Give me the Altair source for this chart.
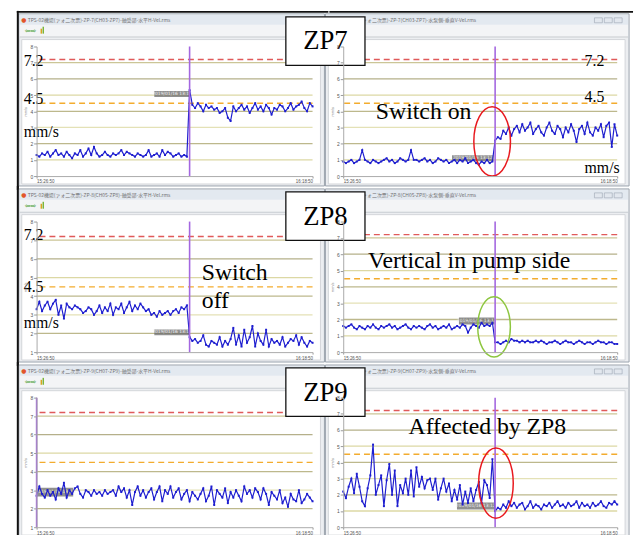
import altair as alt
import pandas as pd

# ---------------- data ----------------
P1_BEFORE = [1.3, 1.2, 1.4, 1.3, 1.5, 1.2, 1.4, 1.6, 1.3, 1.4,
             1.2, 1.5, 1.3, 1.1, 1.4, 1.3, 1.6, 1.2, 1.4, 1.7,
             1.3, 1.8, 1.4, 1.2, 1.3, 1.5, 1.3, 1.2, 1.4, 1.3,
             1.4, 1.6, 1.3, 1.5, 1.4, 1.3, 1.2, 1.4, 1.3, 1.2,
             1.3, 1.6, 1.2, 1.3, 1.4, 1.2, 1.6, 1.3, 1.5, 1.4,
             1.2, 1.3, 1.4, 1.2, 1.3, 1.2]
P1_AFTER = [5.3, 4.4, 4.2, 4.5, 4.3, 4.0, 4.4, 4.2, 4.3, 4.1,
            4.2, 3.9, 4.0, 4.2, 3.6, 3.4, 4.3, 4.0, 4.2, 4.4,
            4.1, 4.3, 3.9, 4.2, 4.5, 4.1, 4.3, 4.0, 4.4, 4.2,
            3.8, 4.2, 4.1, 4.4, 4.3, 4.0, 4.2, 4.5, 4.1, 4.3,
            4.4, 4.6, 4.2, 4.0, 4.5, 4.3]

P2_BEFORE = [0.9, 0.8, 0.9, 1.0, 0.8, 0.9, 1.0, 1.6, 1.0, 0.9,
             0.8, 1.0, 0.9, 0.8, 0.9, 1.0, 1.1, 0.9, 1.0, 0.8,
             0.9, 1.1, 1.0, 0.9, 1.0, 1.6, 1.0, 1.0, 0.9, 1.0,
             1.1, 0.9, 1.0, 0.8, 0.9, 1.1, 1.0, 0.9, 1.0, 0.8,
             0.9, 1.0, 0.8, 1.0, 0.9, 1.1, 0.8, 0.9, 1.0, 0.8,
             0.7, 0.9, 0.8, 1.0, 0.8, 0.9]
P2_AFTER = [2.2, 2.4, 2.3, 2.8, 2.6, 3.0, 2.5, 2.9, 3.1, 2.7,
            3.2, 2.8, 3.0, 3.3, 2.6, 2.9, 3.1, 2.7, 2.5, 3.0,
            3.3, 2.8, 2.6, 3.1, 2.9, 2.4, 3.0, 2.7, 3.2, 2.8,
            2.1, 2.9, 3.1, 2.6, 3.3, 2.7, 2.5, 3.0, 2.8, 3.2,
            2.4, 3.1, 3.3, 1.8, 3.2, 2.5]

P3_BEFORE = [3.3, 3.7, 3.2, 3.5, 3.7, 3.3, 3.6, 3.8, 3.0, 3.5,
             2.8, 3.6, 3.4, 3.3, 3.5, 3.4, 3.3, 3.1, 3.2, 3.4,
             3.3, 3.0, 3.2, 3.5, 3.1, 3.4, 3.2, 3.6, 3.0, 3.4,
             3.3, 3.6, 3.1, 3.4, 3.7, 3.2, 3.5, 3.3, 3.6, 3.4,
             3.2, 3.3, 3.0, 3.1, 2.9, 3.2, 3.0, 3.1, 3.2, 3.0,
             3.2, 3.3, 3.1, 3.4, 3.3, 3.5]
P3_AFTER = [1.8, 1.6, 1.7, 1.5, 1.6, 1.9, 1.4, 1.3, 1.6, 1.5,
            1.4, 1.8, 1.3, 1.6, 1.4, 1.7, 2.3, 1.4, 1.9, 1.3,
            2.2, 1.5, 1.8, 2.4, 1.3, 2.0, 1.6, 1.4, 2.2, 1.3,
            1.7, 1.5, 1.6, 1.4, 1.8, 1.3, 1.5, 1.7, 1.6, 1.9,
            1.4, 1.8, 1.5, 1.3, 1.6, 1.5]

P4_BEFORE = [1.6, 1.5, 1.6, 1.7, 1.5, 1.4, 1.6, 1.5, 1.4, 1.6,
             1.5, 1.7, 1.5, 1.4, 1.6, 1.5, 1.6, 1.7, 1.5, 1.6,
             1.4, 1.5, 1.6, 1.7, 1.5, 1.4, 1.6, 1.5, 1.6, 1.5,
             1.4, 1.6, 1.7, 1.5, 1.6, 1.4, 1.5, 1.6, 1.5, 1.7,
             1.4, 1.5, 1.6, 1.5, 1.7, 1.6, 1.2, 1.5, 1.7, 1.6,
             1.5, 1.8, 1.6, 1.7, 1.6, 1.8]
P4_AFTER = [0.6, 0.6, 0.5, 0.6, 0.7, 0.6, 0.8, 0.7, 0.7, 0.6,
            0.7, 0.6, 0.7, 0.6, 0.6, 0.7, 0.6, 0.7, 0.6, 0.5,
            0.6, 0.6, 0.7, 0.6, 0.5, 0.6, 0.7, 0.6, 0.6, 0.5,
            0.6, 0.7, 0.6, 0.5, 0.6, 0.6, 0.5, 0.6, 0.7, 0.6,
            0.6, 0.5, 0.6, 0.6, 0.5, 0.5]

P5_BEFORE = []
P5_AFTER = [2.7, 3.2, 2.8, 2.6, 3.0, 2.7, 2.9, 2.5, 3.1, 2.8,
            3.4, 2.6, 3.0, 2.8, 3.1, 3.2, 2.8, 2.6, 3.0, 2.9,
            2.7, 3.0, 2.8, 2.9, 2.7, 3.0, 2.8, 2.9, 3.0, 2.7,
            3.2, 2.9, 3.1, 2.6, 3.0, 2.2, 2.9, 3.2, 2.7, 3.0,
            2.6, 2.9, 3.1, 2.5, 2.9, 3.2, 2.4, 3.0, 2.8, 3.2,
            2.6, 2.9, 3.1, 2.5, 2.8, 3.0, 2.4, 2.9, 2.7, 2.5,
            2.8, 3.1, 2.4, 2.7, 3.2, 2.2, 3.0, 2.8, 2.6, 3.1,
            2.3, 2.9, 2.6, 3.0, 2.7, 2.4, 3.2, 2.8, 3.0, 2.6,
            3.1, 2.9, 2.5, 3.1, 2.8, 2.2, 2.9, 2.7, 2.5, 3.0,
            2.3, 2.6, 2.1, 2.8, 2.5, 2.4, 3.0, 2.3, 2.5, 2.8,
            2.6, 2.4]

P6_BEFORE = [2.2, 1.8, 2.5, 3.0, 2.1, 3.3, 2.5, 1.6, 1.3, 2.4,
             3.2, 5.1, 2.0, 2.6, 3.2, 1.3, 2.9, 3.9, 2.0, 3.5,
             1.3, 2.6, 2.1, 3.0, 2.0, 3.5, 1.9, 3.7, 2.5, 3.1,
             2.4, 2.9, 3.0, 2.3, 3.0, 1.7, 2.4, 3.0, 2.2, 2.7,
             1.6, 2.3, 1.7, 2.6, 1.4, 2.2, 1.5, 2.4, 1.6, 2.3,
             2.8, 1.5, 2.9, 2.6, 1.8, 4.2]
P6_AFTER = [1.0, 1.2, 1.1, 1.4, 1.2, 1.6, 1.3, 1.5, 1.2, 1.4,
            1.5, 1.1, 1.3, 1.6, 1.2, 1.4, 1.3, 1.1, 1.4, 1.3,
            1.5, 1.2, 1.4, 1.6, 1.3, 1.4, 1.2, 1.5, 1.3, 1.4,
            1.6, 1.2, 1.5, 1.3, 1.4, 1.2, 1.5, 1.3, 1.4, 1.6,
            1.3, 1.2, 1.5, 1.4, 1.6, 1.4]

Y_MIN = [0, 0, 1, 0, 1, 0]          # lower end of each panel's y axis
Y_MAX = 8
ALARM = 7.2                          # red dashed limit
WARN = 4.5                           # orange dashed limit
GRID_LEVELS = [1, 2, 3, 4, 5, 6, 7]
GRID_SHADES = ["#dcd8a4", "#bdb88c", "#e4e1b6", "#bdb88c", "#dcd8a4", "#b5b08a", "#cbc596"]
TIME_START = "15:26:50"
TIME_END = "16:18:50"
ZP_LABELS = ["ZP7", "ZP8", "ZP9"]
WIN_TITLES = [
    "TPS-02機場(ァォ二次票)-ZP-7(CH03-ZP7)-軸受部-水平H-Vel.rms",
    "TPS-02機場(ァォ二次票)-ZP-7(CH03-ZP7)-水泵側-垂直V-Vel.rms",
    "TPS-02機場(ァォ二次票)-ZP-8(CH05-ZP8)-軸受部-水平H-Vel.rms",
    "TPS-02機場(ァォ二次票)-ZP-8(CH05-ZP8)-水泵側-垂直V-Vel.rms",
    "TPS-02機場(ァォ二次票)-ZP-9(CH07-ZP9)-軸受部-水平H-Vel.rms",
    "TPS-02機場(ァォ二次票)-ZP-9(CH07-ZP9)-水泵側-垂直V-Vel.rms",
]
TIP_TEXT = "2019/01/16 13:12"
# circled region of the change (index, value)
CIRCLES = {1: (54.9, 2.14, "#e8191e", 70, 37), 3: (55.6, 1.55, "#8dc63f", 61, 33),
           5: (56.3, 2.72, "#e8191e", 71, 35)}

BLUE = "#1e1ecf"
SERIF = "Liberation Serif"
WL, WR = 279, 277
HEIGHTS = [131, 132, 131]


def one():
    return pd.DataFrame({"k": [0]})


def prect(x, x2, y, y2, fill, stroke=None, sw=1.0, opacity=1.0):
    kw = {"fill": fill, "opacity": opacity}
    if stroke is not None:
        kw["stroke"] = stroke
        kw["strokeWidth"] = sw
    else:
        kw["strokeWidth"] = 0
    return alt.Chart(one()).mark_rect(**kw).encode(
        x=alt.value(x), x2=alt.value(x2), y=alt.value(y), y2=alt.value(y2))


def ptext(txt, x, y, size, color="black", font=SERIF, align="left", baseline="alphabetic"):
    return alt.Chart(pd.DataFrame({"t": [txt]})).mark_text(
        font=font, fontSize=size, color=color, align=align, baseline=baseline
    ).encode(text="t:N", x=alt.value(x), y=alt.value(y))


def hline(x, x2, y, color, sw):
    return alt.Chart(one()).mark_rule(color=color, strokeWidth=sw).encode(
        x=alt.value(x), x2=alt.value(x2), y=alt.value(y))


def vline(x, y, y2, color, sw):
    return alt.Chart(one()).mark_rule(color=color, strokeWidth=sw).encode(
        x=alt.value(x), y=alt.value(y), y2=alt.value(y2))


def ellipse_path(a):
    k = 0.5523
    ka, kb = round(a * k, 4), k
    return (f"M {a} 0 C {a} {kb} {ka} 1 0 1 C {-ka} 1 {-a} {kb} {-a} 0 "
            f"C {-a} {-kb} {-ka} -1 0 -1 C {ka} -1 {a} {-kb} {a} 0 Z")


def chrome(W, H, right, title):
    L = []
    wx2 = W + 12
    L.append(prect(-18, wx2, -33, H + 10, "#eceef1", "#9aa2ac", 1))
    L.append(prect(-17, wx2 - 1, -32, -22, "#e3e9f0"))
    L.append(prect(-17, wx2 - 1, -22, -10, "#f3f4f6"))
    L.append(prect(-17, wx2 - 1, -10, -9, "#c9cdd2"))
    L.append(prect(-15, W + 8, -7, H + 8, "white", "#d3d6da", 1))
    L.append(ptext("●", -13, -27, 6, "#e2562a", font="DejaVu Sans", align="center", baseline="middle"))
    L.append(ptext(title, -9, -27, 5, "#707070", font="Noto Sans CJK JP", baseline="middle"))
    if not right:
        L.append(ptext("⇦⇨", -12, -16, 7, "#3f9a2c", font="DejaVu Sans", baseline="middle"))
        L.append(prect(4, 5.5, -18, -13, "#d9a520"))
        L.append(prect(6, 7.5, -20, -13, "#7bb53a"))
    else:
        for bx in (254, 264, 274):
            L.append(prect(bx, bx + 8, -29, -24, "#e2e7ee", "#9aa4b0", 0.6))
    return L


def panel(idx, before, after, annots, tip):
    row, right = idx // 2, idx % 2 == 1
    W = WR if right else WL
    H = HEIGHTS[row]
    ymin = Y_MIN[idx]
    vals = before + after
    n = len(vals)
    xs = alt.Scale(domain=[0, n - 1], nice=False, zero=False)
    ys = alt.Scale(domain=[ymin, Y_MAX], nice=False, zero=False)
    xaxis = alt.Axis(values=[0, n - 1], labelFontSize=4.5, labelColor="#555555",
                     tickSize=2, tickColor="#999999", domainColor="#aaaaaa", title="",
                     labelPadding=1, grid=False, zindex=1,
                     labelExpr=f"datum.value == 0 ? '{TIME_START}' : '{TIME_END}'")
    yaxis = alt.Axis(values=list(range(ymin, Y_MAX + 1)), labelFontSize=5, labelColor="#555555",
                     tickSize=3, tickColor="#999999", domainColor="#aaaaaa", format="d",
                     title="mm/s", titleFontSize=4, titleColor="#777777", titleFontWeight="normal",
                     titlePadding=2, labelPadding=1, grid=False, zindex=1)

    L = chrome(W, H, right, WIN_TITLES[idx])
    if not right:
        L.append(vline(-19, -36, H + 14, "#111111", 2))
    if row == 0:
        L.append(hline(-20 if not right else -14, W + 16, -35, "#111111", 2))

    levels = [lv for lv in GRID_LEVELS if lv > ymin]
    shades = [GRID_SHADES[GRID_LEVELS.index(lv)] for lv in levels]
    gdf = pd.DataFrame({"v": levels, "c": shades})
    L.append(alt.Chart(gdf).mark_rule(strokeWidth=1.3).encode(
        y=alt.Y("v:Q", scale=ys, axis=yaxis), color=alt.Color("c:N", scale=None)))

    # cursor tooltip box
    L.append(prect(tip[0], tip[1], tip[2], tip[3], "#6b6b6b", opacity=0.75))
    L.append(ptext(TIP_TEXT, (tip[0] + tip[1]) / 2, (tip[2] + tip[3]) / 2, 4.5, "#f0f0f0",
                   font="DejaVu Sans", align="center", baseline="middle"))

    L.append(alt.Chart(pd.DataFrame({"v": [ALARM]})).mark_rule(
        color="#e05a5a", strokeWidth=1.5, strokeDash=[6, 4]).encode(
        y=alt.Y("v:Q", scale=ys, axis=yaxis)))
    L.append(alt.Chart(pd.DataFrame({"v": [WARN]})).mark_rule(
        color="#f3ac2e", strokeWidth=1.4, strokeDash=[6, 4]).encode(
        y=alt.Y("v:Q", scale=ys, axis=yaxis)))

    df = pd.DataFrame({"i": list(range(n)), "v": vals})
    L.append(alt.Chart(df).mark_line(
        color=BLUE, strokeWidth=1.2,
        point=alt.OverlayMarkDef(shape="square", size=4, color=BLUE, filled=True)).encode(
        x=alt.X("i:Q", scale=xs, axis=xaxis), y=alt.Y("v:Q", scale=ys, axis=yaxis)))

    sw = pd.DataFrame({"i": [len(before)]})
    L.append(alt.Chart(sw).mark_rule(color="#a467e0", strokeWidth=1.6).encode(
        x=alt.X("i:Q", scale=xs, axis=xaxis)))

    if idx in CIRCLES:
        cx, cy, col, h, w = CIRCLES[idx]
        L.append(alt.Chart(pd.DataFrame({"i": [cx], "v": [cy]})).mark_point(
            shape=ellipse_path(round(w / h, 3)), size=h * h, filled=False, color=col,
            strokeWidth=1.5, opacity=1).encode(
            x=alt.X("i:Q", scale=xs, axis=xaxis), y=alt.Y("v:Q", scale=ys, axis=yaxis)))

    for (t, x, y, s) in annots:
        L.append(ptext(t, x, y, s))

    if right:
        L.append(prect(-58, 22, -30, 19, "white", "#111111", 1.3))
        L.append(ptext(ZP_LABELS[row], -18, 3, 27, align="center"))

    return alt.layer(*L).properties(width=W, height=H)


ANNOTS = [
    [("7.2", -13, 20, 16), ("4.5", -13, 58, 16), ("mm/s", -13, 91, 16)],
    [("Switch on", 33, 73, 24), ("7.2", 244, 20, 16), ("4.5", 244, 56, 16), ("mm/s", 244, 128, 16)],
    [("7.2", -13, 19, 16), ("4.5", -13, 71, 16), ("mm/s", -13, 108, 16),
     ("Switch", 167, 59, 24), ("off", 167, 87, 24)],
    [("Vertical in pump side", 25, 47, 24)],
    [],
    [("Affected by ZP8", 66, 37, 24)],
]
TIPS = [(119, 155, 45, 51), (110, 152, 110, 116), (119, 155, 109, 115),
        (117, 153, 97, 104), (1, 37, 91, 100), (115, 153, 106, 113)]
SERIES = [(P1_BEFORE, P1_AFTER), (P2_BEFORE, P2_AFTER), (P3_BEFORE, P3_AFTER),
          (P4_BEFORE, P4_AFTER), (P5_BEFORE, P5_AFTER), (P6_BEFORE, P6_AFTER)]

panels = [panel(i, SERIES[i][0], SERIES[i][1], ANNOTS[i], TIPS[i]) for i in range(6)]

chart = alt.concat(*panels, columns=2, spacing={"column": 31, "row": 46}, bounds="flush").properties(
    padding={"left": 15, "top": 6, "right": 0, "bottom": 0}
).configure_view(strokeWidth=0).configure(background="white")

chart.save("out.html", embed_options={"renderer": "svg", "actions": False})
